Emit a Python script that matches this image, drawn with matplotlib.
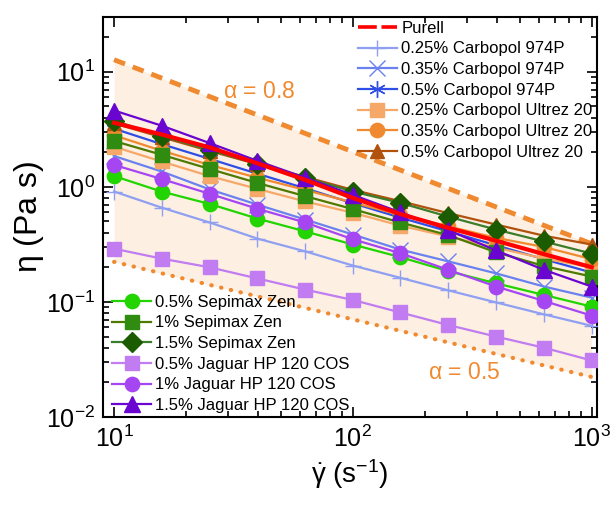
import matplotlib
matplotlib.use('Agg')
import matplotlib.pyplot as plt
from matplotlib.lines import Line2D

plt.rcParams['font.family'] = ['Liberation Sans', 'DejaVu Sans']
plt.rcParams['mathtext.fontset'] = 'custom'
plt.rcParams['mathtext.rm'] = 'Liberation Sans'
plt.rcParams['mathtext.it'] = 'Liberation Sans:italic'
plt.rcParams['mathtext.default'] = 'regular'

# shear rate (s^-1)
rate = [10, 15.8, 25.1, 39.8, 63.1, 100, 158, 251, 398, 631, 1000]

purell = [3.6, 2.85, 2.2, 1.6, 1.15, 0.8, 0.58, 0.44, 0.34, 0.26, 0.2]
carb974_025 = [0.91, 0.66, 0.49, 0.355, 0.275, 0.207, 0.162, 0.126, 0.099, 0.078, 0.062]
carb974_035 = [1.85, 1.36, 0.95, 0.70, 0.52, 0.385, 0.285, 0.225, 0.177, 0.136, 0.109]
carb974_05 = [3.2, 2.35, 1.75, 1.3, 0.97, 0.72, 0.54, 0.41, 0.31, 0.235, 0.18]
ultrez_025 = [2.23, 1.66, 1.24, 0.96, 0.746, 0.595, 0.46, 0.37, 0.296, 0.238, 0.2]
ultrez_035 = [2.8, 2.06, 1.55, 1.2, 0.94, 0.73, 0.57, 0.453, 0.36, 0.3, 0.235]
ultrez_05 = [3.55, 2.7, 2.05, 1.57, 1.22, 0.94, 0.75, 0.59, 0.47, 0.376, 0.315]
sepi_05 = [1.24, 0.91, 0.71, 0.53, 0.41, 0.315, 0.245, 0.185, 0.145, 0.115, 0.091]
sepi_1 = [2.5, 1.9, 1.43, 1.08, 0.83, 0.64, 0.49, 0.38, 0.27, 0.205, 0.166]
sepi_15 = [3.75, 2.77, 2.09, 1.58, 1.2, 0.91, 0.725, 0.55, 0.425, 0.335, 0.263]
jag_05 = [0.29, 0.238, 0.20, 0.16, 0.128, 0.104, 0.081, 0.063, 0.050, 0.040, 0.031]
jag_1 = [1.55, 1.17, 0.87, 0.645, 0.49, 0.35, 0.265, 0.19, 0.136, 0.102, 0.076]
jag_15 = [4.6, 3.4, 2.4, 1.68, 1.2, 0.85, 0.6, 0.42, 0.28, 0.19, 0.136]

# guide lines
bound_x = [10, 1000]
upper_y = [12.7, 0.32]   # alpha = 0.8
lower_y = [0.223, 0.0223]  # alpha = 0.5

fig = plt.figure(figsize=(6.14, 5.08), dpi=100)
ax = fig.add_axes([0.168, 0.179, 0.804, 0.788])

ax.fill_between(bound_x, lower_y, upper_y, color='#fdefe2', zorder=0, lw=0)
ax.plot(bound_x, upper_y, color='#f08a30', lw=3.5, dashes=(2.4, 1.7), zorder=1)
ax.plot(bound_x, lower_y, color='#f08a30', lw=3, ls=(0, (0.1, 2.3)),
        dash_capstyle='round', zorder=1)
ax.text(28.6, 5.9, r'$\alpha$ = 0.8', color='#f08a30', fontsize=16.5)
ax.text(206, 0.0213, r'$\alpha$ = 0.5', color='#f08a30', fontsize=16.5)

ms = 9.5
series = [
    (carb974_025, '#8f9ff2', '+', 'none', '0.25% Carbopol 974P', 12),
    (carb974_035, '#6a82f0', 'x', 'none', '0.35% Carbopol 974P', 11),
    (carb974_05, '#2e4ee6', (6, 2, 0), 'none', '0.5% Carbopol 974P', 12),
    (ultrez_025, '#f5a868', 's', '#f5a868', '0.25% Carbopol Ultrez 20', ms),
    (ultrez_035, '#f08a30', 'o', '#f08a30', '0.35% Carbopol Ultrez 20', ms + 0.8),
    (ultrez_05, '#b0520e', '^', '#b0520e', '0.5% Carbopol Ultrez 20', ms + 1),
    (sepi_05, '#22d400', 'o', '#22d400', '0.5% Sepimax Zen', ms + 0.8),
    (sepi_1, '#4f7a00', 's', '#2f8c10', '1% Sepimax Zen', ms),
    (sepi_15, '#3b7d2a', 'D', '#1b5c00', '1.5% Sepimax Zen', ms + 0.8),
    (jag_05, '#c07cf0', 's', '#c07cf0', '0.5% Jaguar HP 120 COS', ms),
    (jag_1, '#a646f2', 'o', '#a646f2', '1% Jaguar HP 120 COS', ms + 0.8),
    (jag_15, '#6a04d0', '^', '#6a04d0', '1.5% Jaguar HP 120 COS', ms + 1.5),
]

handles = {}
for y, col, mk, fc, lab, size in series:
    mfc = col if fc == 'none' else fc
    h, = ax.plot(rate, y, color=col, lw=1.6, marker=mk, markersize=size,
                 markerfacecolor=mfc, markeredgecolor=mfc, markeredgewidth=1.0,
                 label=lab, zorder=3)
    handles[lab] = h

ax.plot(rate, purell, color='#ff0000', lw=3, zorder=4)
purell_h = Line2D([], [], color='#ff0000', lw=2.6, dashes=(5.2, 1.3))

top_labels = ['0.25% Carbopol 974P', '0.35% Carbopol 974P', '0.5% Carbopol 974P',
              '0.25% Carbopol Ultrez 20', '0.35% Carbopol Ultrez 20',
              '0.5% Carbopol Ultrez 20']
bot_labels = ['0.5% Sepimax Zen', '1% Sepimax Zen', '1.5% Sepimax Zen',
              '0.5% Jaguar HP 120 COS', '1% Jaguar HP 120 COS',
              '1.5% Jaguar HP 120 COS']

leg_kw = dict(frameon=False, fontsize=12, handlelength=2.35, handletextpad=0.25,
              labelspacing=0.34, borderpad=0, borderaxespad=0)
leg1 = ax.legend([purell_h] + [handles[l] for l in top_labels], ['Purell'] + top_labels,
                 loc='upper left', bbox_to_anchor=(0.516, 0.99), **leg_kw)
ax.add_artist(leg1)
ax.legend([handles[l] for l in bot_labels], bot_labels,
          loc='lower left', bbox_to_anchor=(0.018, 0.01), **leg_kw)

ax.set_xscale('log')
ax.set_yscale('log')
ax.set_xlim(9.0, 1050)
ax.set_ylim(0.01, 30)

ax.set_xlabel(r'$\dot{\gamma}$ (s$^{-1}$)', fontsize=20, labelpad=4)
ax.set_ylabel(r'$\eta$ (Pa s)', fontsize=23, labelpad=0)

for s in ax.spines.values():
    s.set_linewidth(1.5)
ax.tick_params(which='both', direction='in', top=True, right=True, width=1.2)
ax.tick_params(which='major', length=7, labelsize=18, pad=6)
ax.tick_params(which='minor', length=4)

fig.savefig('out.png', dpi=100)
